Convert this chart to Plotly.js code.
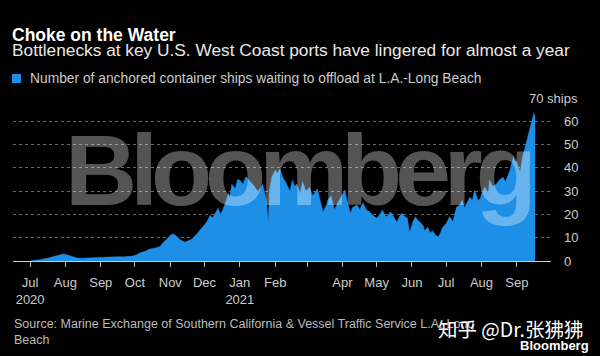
<!DOCTYPE html>
<html>
<head>
<meta charset="utf-8">
<script src="https://cdn.plot.ly/plotly-3.0.1.min.js"></script>
<style>html,body{margin:0;padding:0;background:#000;}#chart{width:600px;height:356px;}</style>
</head>
<body>
<div id="chart"></div>
<script>
// Data
const dates = [
"2020-07-01","2020-07-07","2020-07-12","2020-07-17","2020-07-21","2020-07-26","2020-07-30",
"2020-08-03","2020-08-07","2020-08-11","2020-08-16","2020-08-20","2020-08-25","2020-08-31",
"2020-09-05","2020-09-09","2020-09-14","2020-09-21","2020-09-25","2020-09-29",
"2020-10-03","2020-10-05","2020-10-10","2020-10-14","2020-10-19","2020-10-23","2020-10-26","2020-10-29",
"2020-11-01","2020-11-03","2020-11-05","2020-11-07","2020-11-10","2020-11-14","2020-11-17","2020-11-20","2020-11-24","2020-11-27",
"2020-12-01","2020-12-03","2020-12-06","2020-12-08","2020-12-11","2020-12-13","2020-12-15","2020-12-17","2020-12-20","2020-12-22","2020-12-23","2020-12-25","2020-12-28","2020-12-30",
"2021-01-01","2021-01-04","2021-01-06","2021-01-07","2021-01-10","2021-01-13","2021-01-15","2021-01-17","2021-01-20","2021-01-21","2021-01-24","2021-01-26","2021-01-27","2021-01-29",
"2021-02-01","2021-02-03","2021-02-05","2021-02-08","2021-02-10","2021-02-11","2021-02-14","2021-02-16","2021-02-18","2021-02-20","2021-02-23","2021-02-25","2021-02-28",
"2021-03-03","2021-03-06","2021-03-10","2021-03-12","2021-03-15","2021-03-18","2021-03-19","2021-03-22","2021-03-25","2021-03-28",
"2021-04-01","2021-04-03","2021-04-05","2021-04-08","2021-04-10","2021-04-14","2021-04-16","2021-04-19","2021-04-22","2021-04-25","2021-04-29",
"2021-05-01","2021-05-04","2021-05-06","2021-05-08","2021-05-10","2021-05-13","2021-05-14","2021-05-17","2021-05-19","2021-05-21","2021-05-23","2021-05-26","2021-05-28","2021-05-30",
"2021-06-02","2021-06-04","2021-06-06","2021-06-08","2021-06-11","2021-06-12","2021-06-15","2021-06-17","2021-06-19","2021-06-22","2021-06-24","2021-06-26","2021-06-28",
"2021-07-01","2021-07-04","2021-07-07","2021-07-10","2021-07-13","2021-07-15","2021-07-17","2021-07-19","2021-07-22","2021-07-24","2021-07-26","2021-07-29","2021-07-31",
"2021-08-02","2021-08-04","2021-08-07","2021-08-08","2021-08-11","2021-08-14","2021-08-17","2021-08-20","2021-08-22","2021-08-26","2021-08-29","2021-08-30",
"2021-09-01","2021-09-04","2021-09-06","2021-09-08","2021-09-10","2021-09-12","2021-09-14","2021-09-16","2021-09-17"
];
const ships = [
0,0.3,0.8,1.3,1.8,2.5,3.0,
2.6,2.0,1.3,1.2,1.3,1.3,1.4,
1.6,1.7,1.8,1.8,2.0,2.1,
2.8,3.4,4.2,5.1,5.6,6.2,8.0,9.7,
11.0,11.6,11.2,10.3,9.0,8.1,8.6,9.4,11.5,13.3,
15.5,16.7,19.7,18.5,21,22.7,20,22,26,29,27,33,31,35,
34.7,33,36,36,34,32.6,31,30,32,33,27,16.7,30,36,
39,37.7,39.5,35.6,34,33,30,34.7,32,33,29,34,30,
31.7,28,31,27,21,24,26,28,22,25,
29,30.4,26,20.6,23,24,22,25,22,21,19,
18.4,20,22,20,19,21,20.6,18,16.7,19,20.6,19,18.4,12.4,
17,19,17.5,16.7,15,13,14.5,12,13,11,10.3,12,14.6,
16,19,17,23,24,26,23,25,27.4,26,30.4,26,27,
30,31.7,29,34.7,32,33,35,36,34,39,44.6,43,
42.4,38,44.6,48,52,56,60,63.5,62
];
const tickDates = ["2020-07-01","2020-08-01","2020-09-01","2020-10-01","2020-11-01","2020-12-01","2021-01-01","2021-02-01","2021-03-01","2021-04-01","2021-05-01","2021-06-01","2021-07-01","2021-08-01","2021-09-01"];
const tickLabels = ["Jul<br>2020","Aug","Sep","Oct","Nov","Dec","Jan<br>2021","Feb","","Apr","May","Jun","Jul","Aug","Sep"];
const yTicks = [0,10,20,30,40,50,60,70];
const yTickLabels = ["0","10","20","30","40","50","60",""];

const FONT = "Liberation Sans, Arial, sans-serif";
const BLUE = "#1e8fe6";

const trace = {
  type: "scatter", mode: "lines", x: dates, y: ships,
  fill: "tozeroy", fillcolor: BLUE,
  line: {color: BLUE, width: 0.5, shape: "linear"},
  hoverinfo: "skip", showlegend: false
};

const layout = {
  width: 600, height: 356,
  paper_bgcolor: "#000", plot_bgcolor: "#000",
  margin: {l: 13, r: 49, t: 98, b: 95},
  showlegend: false,
  title: {
    text: "<b>Choke on the Water</b>",
    font: {family: FONT, size: 17.5, color: "#ffffff"},
    x: 12/600, xanchor: "left", xref: "container",
    y: 1 - 34.5/356, yanchor: "middle", yref: "container"
  },
  xaxis: {
    type: "date", range: ["2020-06-16", "2021-10-01"],
    tickvals: tickDates, ticktext: tickLabels,
    ticks: "outside", ticklen: 5, tickcolor: "#bbbbbb", tickwidth: 1,
    showline: true, linecolor: "#cccccc", linewidth: 1,
    showgrid: false, zeroline: false,
    tickfont: {family: FONT, size: 13, color: "#cccccc"},
    ticklabelstandoff: 4, fixedrange: true
  },
  yaxis: {
    side: "right", range: [0, 70],
    tickvals: yTicks, ticktext: yTickLabels,
    showgrid: true, gridcolor: "#6a6a6a", griddash: "dot", gridwidth: 1,
    zeroline: false, showline: false, ticks: "",
    tickfont: {family: FONT, size: 13, color: "#cccccc"},
    ticklabelstandoff: 12, fixedrange: true
  },
  shapes: [
    {type: "rect", xref: "paper", yref: "paper",
     x0: -1/538, x1: 8/538, y0: (261-74)/163, y1: (261-83)/163,
     fillcolor: BLUE, line: {width: 0}}
  ],
  annotations: [
    {text: "Bottlenecks at key U.S. West Coast ports have lingered for almost a year",
     xref: "paper", yref: "paper", x: -3/538, y: (261-50)/163, xanchor: "left", yanchor: "middle",
     showarrow: false, font: {family: FONT, size: 17.3, color: "#e8e8e8"}},
    {text: "Number of anchored container ships waiting to offload at L.A.-Long Beach",
     xref: "paper", yref: "paper", x: 15/538, y: (261-78)/163, xanchor: "left", yanchor: "middle",
     showarrow: false, font: {family: FONT, size: 13.8, color: "#cccccc"}},
    {text: "70 ships",
     xref: "paper", yref: "paper", x: (580-13)/538, y: 1, xanchor: "right", yanchor: "middle",
     bgcolor: "#000000", borderpad: 1,
     showarrow: false, font: {family: FONT, size: 13, color: "#cccccc"}},
    {text: "<span style=\"letter-spacing:-7px\">Bloomberg</span>",
     xref: "paper", yref: "paper", x: (298-13)/538, y: (261-170)/163, xanchor: "center", yanchor: "middle",
     showarrow: false, font: {family: FONT, size: 100, color: "rgba(255,255,255,0.33)", weight: "bold"}},
    {text: "Source: Marine Exchange of Southern California &amp; Vessel Traffic Service L.A.-Long<br>Beach",
     xref: "paper", yref: "paper", x: -1/538, y: (261-332)/163, xanchor: "left", yanchor: "middle", align: "left",
     showarrow: false, font: {family: FONT, size: 12.5, color: "#bbbbbb"}},
    {text: "知乎 @Dr.张狒狒",
     xref: "paper", yref: "paper", x: (585-13)/538, y: (261-328)/163, xanchor: "right", yanchor: "middle",
     showarrow: false, borderpad: 0, font: {family: "Noto Sans CJK SC, sans-serif", size: 19.5, color: "#ffffff"}},
    {text: "<b>Bloomberg</b>",
     xref: "paper", yref: "paper", x: (590-13)/538, y: (261-345)/163, xanchor: "right", yanchor: "middle",
     showarrow: false, borderpad: 0, font: {family: FONT, size: 13, color: "#ffffff"}}
  ]
};

Plotly.newPlot("chart", [trace], layout, {staticPlot: true, displayModeBar: false});
</script>
</body>
</html>
